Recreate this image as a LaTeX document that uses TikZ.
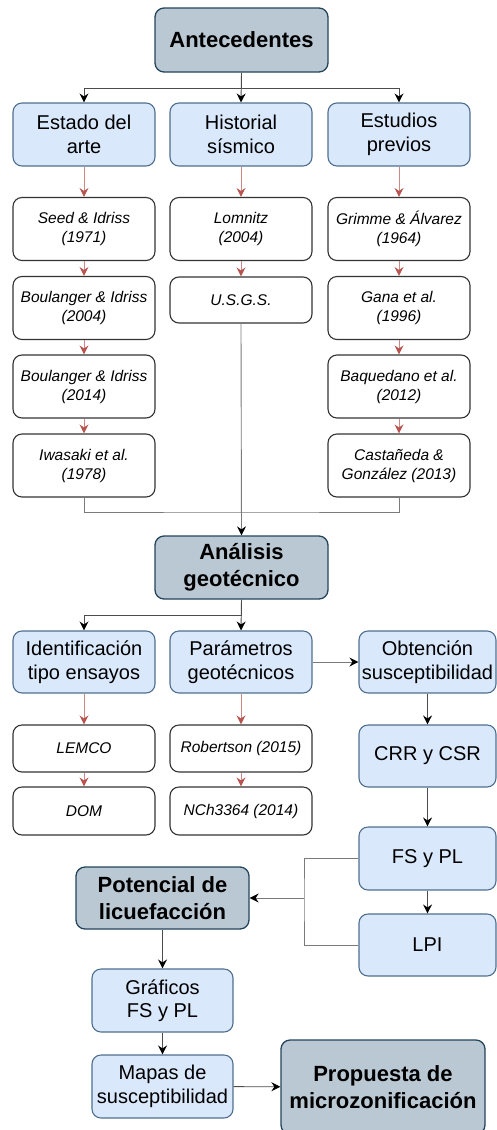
\documentclass[tikz,border=0pt]{standalone}
\usepackage{fontspec}
\setmainfont{Liberation Sans}
\usetikzlibrary{arrows.meta}
\usepackage{xcolor}
\definecolor{mgfill}{HTML}{BAC8D3}
\definecolor{mgdraw}{HTML}{23445D}
\definecolor{lbfill}{HTML}{DAE8FC}
\definecolor{lbdraw}{HTML}{4F6F8F}
\definecolor{refred}{HTML}{B85450}
\definecolor{linkgray}{HTML}{7A7A7A}
\tikzset{
    mainbox/.style={
        draw=mgdraw,line width=1.3pt,rounded corners=9pt,fill=mgfill,
        align=center,inner sep=0pt,font=\fontsize{22}{27}\selectfont\bfseries
    },
    stepbox/.style={
        draw=lbdraw,line width=1.1pt,rounded corners=9pt,fill=lbfill,
        align=center,inner sep=0pt,font=\fontsize{20}{23.5}\selectfont
    },
    refbox/.style={
        draw=black!80,line width=1.1pt,rounded corners=9pt,fill=white,
        align=center,inner sep=0pt,minimum width=142pt,
        font=\fontsize{15.5}{19}\selectfont\itshape
    },
    arrow/.style={
        -{Stealth[length=9pt,width=9pt,inset=3pt,color=black]},line width=0.9pt,draw=black!70
    },
    redarrow/.style={
        -{Stealth[length=9pt,width=9pt,inset=3pt,color=refred]},line width=0.9pt,draw=refred!70
    },
    link/.style={line width=0.9pt,draw=linkgray}
}

\begin{document}
\begin{tikzpicture}[x=1pt,y=-1pt]
\useasboundingbox (0,0) rectangle (496,1130);

% antecedentes
\node[mainbox,minimum width=173pt,minimum height=64pt] (ante) at (241.5,40) {Antecedentes};

\node[stepbox,minimum width=142pt,minimum height=63pt] (estado) at (84,134.5) {Estado del\\arte};
\node[stepbox,minimum width=142pt,minimum height=63pt] (hist) at (241,134.5) {Historial\\sísmico};
\node[stepbox,minimum width=142pt,minimum height=63pt] (estud) at (399,134.5) {Estudios\\previos};

\node[refbox,minimum height=63pt] (seed) at (84,229) {Seed \& Idriss\\(1971)};
\node[refbox,minimum height=63pt] (boul04) at (84,308) {Boulanger \& Idriss\\(2004)};
\node[refbox,minimum height=63pt] (boul14) at (84,386.5) {Boulanger \& Idriss\\(2014)};
\node[refbox,minimum height=63pt] (iwa) at (84,465.5) {Iwasaki et al.\\(1978)};

\node[refbox,minimum height=63pt] (lom) at (241,229) {Lomnitz\\(2004)};
\node[refbox,minimum height=46pt] (usgs) at (241,300) {U.S.G.S.};

\node[refbox,minimum height=63pt] (grim) at (399,229) {Grimme \& Álvarez\\(1964)};
\node[refbox,minimum height=63pt] (gana) at (399,308) {Gana et al.\\(1996)};
\node[refbox,minimum height=63pt] (baq) at (399,386.5) {Baquedano et al.\\(2012)};
\node[refbox,minimum height=63pt] (cast) at (399,465.5) {Castañeda \&\\González (2013)};

% analisis geotecnico
\node[mainbox,minimum width=173pt,minimum height=63pt] (ana) at (241.5,567.5) {Análisis\\geotécnico};

\node[stepbox,minimum width=142pt,minimum height=62pt] (ident) at (84,662) {Identificación\\tipo ensayos};
\node[stepbox,minimum width=142pt,minimum height=62pt] (param) at (241,662) {Parámetros\\geotécnicos};
\node[stepbox,minimum width=137pt,minimum height=62pt] (obten) at (427.5,662) {Obtención\\susceptibilidad};

\node[refbox,minimum height=47pt] (lemco) at (84,748.5) {LEMCO};
\node[refbox,minimum height=48pt] (dom) at (84,811) {DOM};
\node[refbox,minimum height=47pt] (rob) at (241,748.5) {Robertson (2015)};
\node[refbox,minimum height=48pt] (nch) at (241,811) {NCh3364 (2014)};

\node[stepbox,minimum width=137pt,minimum height=62pt] (crr) at (427.5,756) {CRR y CSR};
\node[stepbox,minimum width=137pt,minimum height=63pt] (fs) at (427.5,858.5) {FS y PL};
\node[stepbox,minimum width=137pt,minimum height=62pt] (lpi) at (427.5,945) {LPI};

% potencial y propuesta
\node[mainbox,minimum width=173pt,minimum height=62pt] (pot) at (162.5,898) {Potencial de\\licuefacción};
\node[stepbox,minimum width=141pt,minimum height=63pt] (graf) at (162.5,1000.5) {Gráficos\\FS y PL};
\node[stepbox,minimum width=141pt,minimum height=63pt] (mapas) at (162.5,1086.5) {Mapas de\\susceptibilidad};
\node[mainbox,minimum width=204pt,minimum height=94pt] (prop) at (383,1087) {Propuesta de\\microzonificación};

\coordinate (bus) at (241,512);
\coordinate (split) at (304,898);

% conectores
\draw[arrow] (ante.south) -- ++(0,16) -| (estado.north);
\draw[arrow] (ante.south) -- ++(0,16) -| (estud.north);
\draw[arrow] (ante.south) -- (hist.north);

\draw[redarrow] (estado) -- (seed);
\draw[redarrow] (seed) -- (boul04);
\draw[redarrow] (boul04) -- (boul14);
\draw[redarrow] (boul14) -- (iwa);
\draw[redarrow] (hist) -- (lom);
\draw[redarrow] (lom) -- (usgs);
\draw[redarrow] (estud) -- (grim);
\draw[redarrow] (grim) -- (gana);
\draw[redarrow] (gana) -- (baq);
\draw[redarrow] (baq) -- (cast);

\draw[link] (iwa.south) |- (bus) -| (cast.south);
\draw[arrow,draw=linkgray] (usgs.south) -- (ana.north);

\draw[arrow] (ana.south) -- ++(0,16) -| (ident.north);
\draw[arrow] (ana.south) -- (param.north);
\draw[arrow,draw=linkgray] (param) -- (obten);

\draw[redarrow] (ident) -- (lemco);
\draw[redarrow] (lemco) -- (dom);
\draw[redarrow] (param) -- (rob);
\draw[redarrow] (rob) -- (nch);

\draw[arrow] (obten) -- (crr);
\draw[arrow] (crr) -- (fs);
\draw[arrow] (fs) -- (lpi);

\draw[link] (fs.west) -| (split) |- (lpi.west);
\draw[arrow,draw=linkgray] (split) -- (pot.east);

\draw[arrow] (pot) -- (graf);
\draw[arrow] (graf) -- (mapas);
\draw[arrow] (mapas) -- (prop);

\end{tikzpicture}
\end{document}
